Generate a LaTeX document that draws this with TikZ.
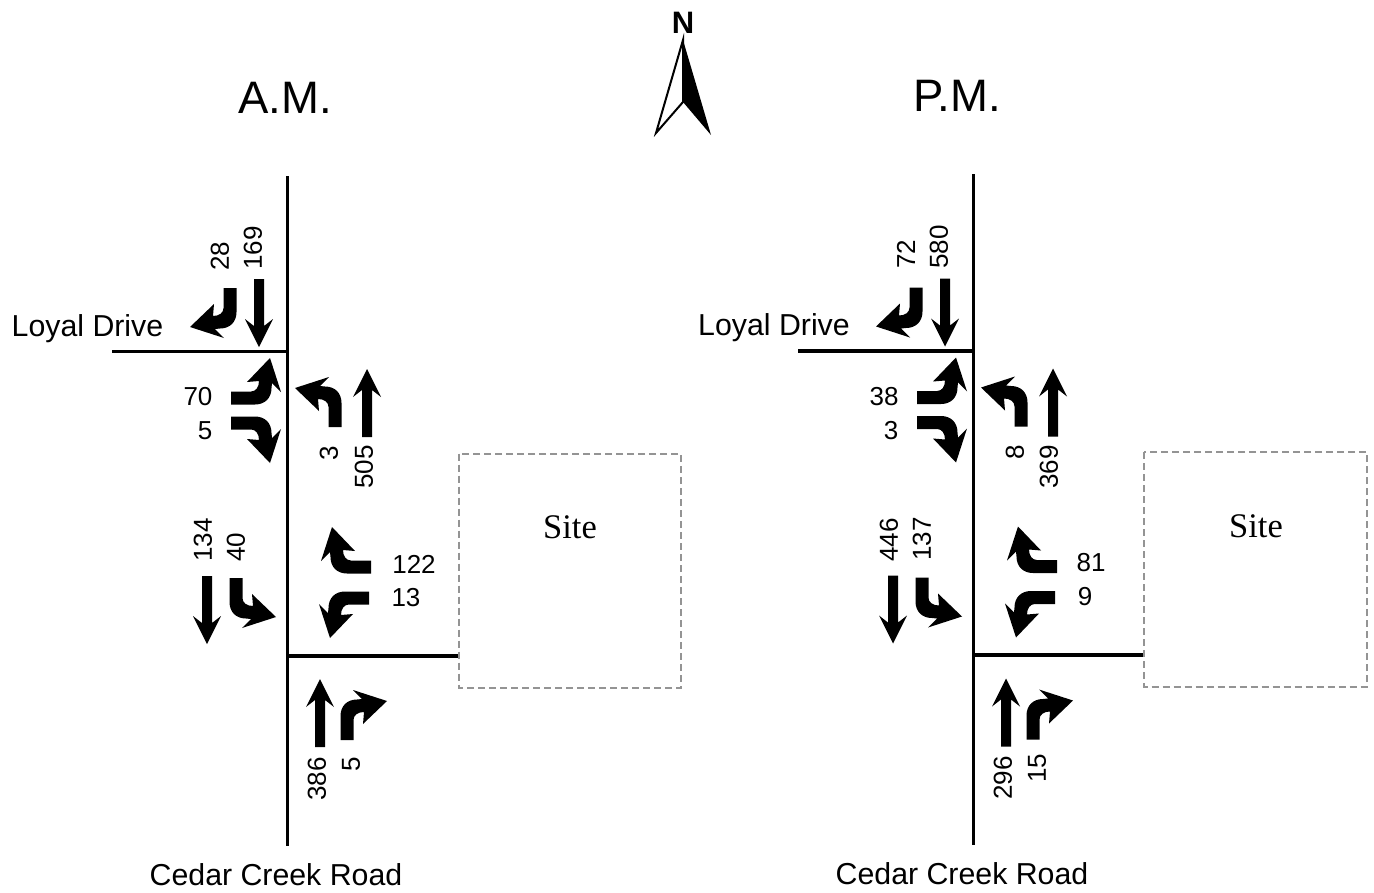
\documentclass[tikz,border=0pt]{standalone}
\usepackage{fontspec}
\setmainfont{Liberation Sans}
\newfontfamily\serifsite{Liberation Serif}
\tikzset{
  x=1pt,y=-1pt,
  road/.style={line width=3.3pt,black},
  sitebox/.style={draw=black!42,line width=2pt,dash pattern=on 7pt off 4pt},
  num/.style={font=\fontsize{26}{30}\selectfont,inner sep=0pt,text=black},
  vnum/.style={num,rotate=90},
  street/.style={font=\fontsize{30.3}{34}\selectfont,inner sep=0pt,text=black},
  period/.style={font=\fontsize{45.5}{50}\selectfont,inner sep=0pt,text=black},
  sitelabel/.style={font=\serifsite\fontsize{34.5}{38}\selectfont,inner sep=0pt,text=black},
  north/.style={font=\bfseries\fontsize{31}{34}\selectfont,inner sep=0pt}
}
% turning arrow: base at the given point; rot in degrees; mir = 1 turns right, -1 left
\newcommand{\TurnArrow}[3]{\begin{scope}[shift={(#1)},rotate=#2,xscale=#3]
  \fill (-6.5,0) -- (-6.5,-24) .. controls (-6.5,-34) and (0,-40.5) .. (10,-40.5) -- (15,-41) -- (6,-50) -- (40,-39) -- (16,-16) -- (17,-28) .. controls (11,-28) and (6.5,-25) .. (6.5,-20) -- (6.5,0) -- cycle;
\end{scope}}
\newcommand{\StraightArrow}[2]{\begin{scope}[shift={(#1)},rotate=#2]
  \fill (-5,0) -- (-5,-47) -- (-14,-40) -- (0,-68) -- (14,-40) -- (5,-47) -- (5,0) -- cycle;
\end{scope}}
\newcommand{\Intersections}[1]{\begin{scope}[shift={(#1)}]
  \TurnArrow{230,288}{180}{1}
  \StraightArrow{259,279}{180}
  \TurnArrow{231,398}{-90}{-1}
  \TurnArrow{231,423}{-90}{1}
  \TurnArrow{335,427}{0}{-1}
  \StraightArrow{367,437}{0}
  \StraightArrow{207,576}{180}
  \TurnArrow{236,578}{180}{-1}
  \TurnArrow{371,567}{90}{1}
  \TurnArrow{369,598}{90}{-1}
  \StraightArrow{320,747}{0}
  \TurnArrow{347,740}{0}{1}
\end{scope}}
\begin{document}
\begin{tikzpicture}
\useasboundingbox (0,0) rectangle (1374,892);
% north arrow
\node[north] (n) at (683,23) {N};
\coordinate (ntip) at (683,40);
\coordinate (nleft) at (656,133);
\coordinate (nright) at (711,135);
\coordinate (nmid) at (683,102);
\fill (ntip) -- (nright) -- (nmid) -- cycle;
\draw[line width=2pt,line join=miter] (ntip) -- (nleft) -- (nmid) -- cycle;
% titles
\node[period] (am) at (285,98) {A.M.};
\node[period] (pm) at (957,96) {P.M.};
% A.M. roads
\draw[road] (287.5,176) -- (287.5,846);
\draw[road] (112,351.5) -- (287.5,351.5);
\draw[road] (287.5,656) -- (459,656);
\draw[sitebox] (459,453.5) rectangle (681,687.5);
% P.M. roads
\draw[road] (973.5,174) -- (973.5,845);
\draw[road] (798,351) -- (973.5,351);
\draw[road] (973.5,655) -- (1145,655);
\draw[sitebox] (1144,452) rectangle (1367,686.5);
% arrows
\Intersections{0,0}
\Intersections{686,-0.5}
% street labels
\node[street] (la) at (87.5,329) {Loyal Drive};
\node[street] (ca) at (276,875) {Cedar Creek Road};
\node[street] (lp) at (774,328) {Loyal Drive};
\node[street] (cp) at (962,874) {Cedar Creek Road};
\node[sitelabel] (sa) at (570,527) {Site};
\node[sitelabel] (sp) at (1256,526) {Site};
% A.M. volumes
\node[vnum] (a1) at (220,256) {28};
\node[vnum] (a2) at (253,248) {169};
\node[num] (a3) at (198,397) {70};
\node[num] (a4) at (205,431) {5};
\node[vnum] (a5) at (329,453) {3};
\node[vnum] (a6) at (364,467) {505};
\node[vnum] (a7) at (203,540) {134};
\node[vnum] (a8) at (236,547) {40};
\node[num] (a9) at (414,564) {122};
\node[num] (a10) at (406,598) {13};
\node[vnum] (a11) at (317,779) {386};
\node[vnum] (a12) at (351,764) {5};
% P.M. volumes
\node[vnum] (p1) at (906,254) {72};
\node[vnum] (p2) at (939,247) {580};
\node[num] (p3) at (884,397) {38};
\node[num] (p4) at (891,431) {3};
\node[vnum] (p5) at (1015,452) {8};
\node[vnum] (p6) at (1049,467) {369};
\node[vnum] (p7) at (889,540) {446};
\node[vnum] (p8) at (922,539) {137};
\node[num] (p9) at (1091,563) {81};
\node[num] (p10) at (1085,597) {9};
\node[vnum] (p11) at (1003,778) {296};
\node[vnum] (p12) at (1037,768) {15};
\end{tikzpicture}
\end{document}
